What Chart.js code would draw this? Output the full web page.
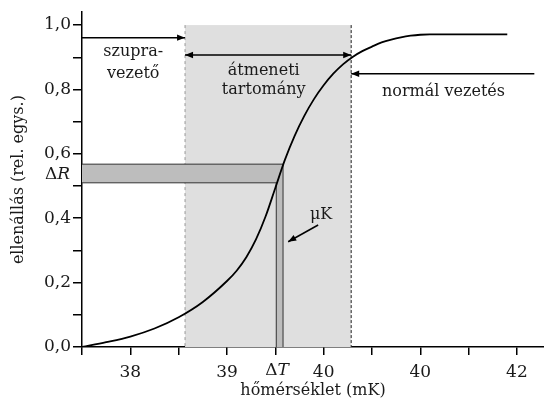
<!doctype html>
<html lang="hu">
<head>
  <meta charset="utf-8">
  <title>ellenállás – hőmérséklet</title>
  <script src="https://cdn.jsdelivr.net/npm/chart.js@4.4.1/dist/chart.umd.min.js"></script>
  <style>
    html, body { margin: 0; padding: 0; background: #fff; }
  </style>
</head>
<body>
  <canvas id="myChart" width="544" height="400"></canvas>
  <script>
    // a görbe leolvasott pontjai
    const tempK = [37.5, 37.75, 38.0, 38.25, 38.5, 38.75, 39.0, 39.1, 39.2, 39.3, 39.4, 39.5, 39.6, 39.7,
      39.8, 39.9, 40.0, 40.1, 40.2, 40.3, 40.4, 40.5, 40.6, 40.7, 40.8, 40.9, 41.0, 41.1, 41.9];
    const resistance = [0, 0.015, 0.0325, 0.0575, 0.0925, 0.14, 0.205, 0.237, 0.279, 0.334, 0.406, 0.494,
      0.582, 0.656, 0.718, 0.77, 0.813, 0.849, 0.878, 0.901, 0.919, 0.933, 0.946, 0.955, 0.962, 0.967,
      0.97, 0.971, 0.971];

    // tengely-feliratok
    const xTickValues = [37.5, 38, 38.5, 39, 39.5, 40, 40.5, 41, 41.5, 42];
    const xTickLabels = ['', '38', '', '39', '', '40', '', '40', '', '42'];
    const yTickValues = [0, 0.1, 0.2, 0.3, 0.4, 0.5, 0.6, 0.7, 0.8, 0.9, 1.0];
    const yTickLabels = ['0,0', '', '0,2', '', '0,4', '', '0,6', '', '0,8', '', '1,0'];

    // tartományok
    const transitionRange = [38.566, 40.285];
    const deltaT = [39.51, 39.58];
    const deltaR = [0.51, 0.568];

    // nyilak: [x1, y1, x2, y2, kétirányú?]
    const arrows = [
      [37.5, 0.961, 38.566, 0.961, false],
      [38.566, 0.907, 40.285, 0.907, true],
      [42.18, 0.849, 40.285, 0.849, false],
      [39.943, 0.379, 39.633, 0.327, false]
    ];

    // feliratok: [szöveg, x, y]
    const notes = [
      ['szupra-', 38.03, 0.916],
      ['vezető', 38.03, 0.850],
      ['átmeneti', 39.38, 0.858],
      ['tartomány', 39.38, 0.800],
      ['normál vezetés', 41.24, 0.792],
      ['μK', 39.974, 0.411]
    ];
    const deltaNotes = [
      ['R', 37.246, 0.537],
      ['T', 39.519, -0.074]
    ];

    const FONT = "'DejaVu Serif', serif";

    function head(ctx, x1, y1, x2, y2) {
      const a = Math.atan2(y2 - y1, x2 - x1);
      ctx.beginPath();
      ctx.moveTo(x2, y2);
      ctx.lineTo(x2 - 8 * Math.cos(a) + 3.2 * Math.sin(a), y2 - 8 * Math.sin(a) - 3.2 * Math.cos(a));
      ctx.lineTo(x2 - 8 * Math.cos(a) - 3.2 * Math.sin(a), y2 - 8 * Math.sin(a) + 3.2 * Math.cos(a));
      ctx.closePath();
      ctx.fill();
    }

    const overlay = {
      id: 'overlay',
      beforeDatasetsDraw(chart) {
        const ctx = chart.ctx;
        const xs = chart.scales.x, ys = chart.scales.y;
        const x1 = xs.getPixelForValue(transitionRange[0]);
        const x2 = xs.getPixelForValue(transitionRange[1]);
        const top = ys.getPixelForValue(1.0), bot = ys.getPixelForValue(0);
        ctx.save();
        ctx.fillStyle = '#dfdfdf';
        ctx.fillRect(x1, top, x2 - x1, bot - top);
        ctx.lineWidth = 1;
        ctx.setLineDash([3, 3]);
        ctx.strokeStyle = '#999';
        ctx.beginPath(); ctx.moveTo(x1, top); ctx.lineTo(x1, bot); ctx.stroke();
        ctx.strokeStyle = '#222';
        ctx.setLineDash([3, 2]);
        ctx.beginPath(); ctx.moveTo(x2, top); ctx.lineTo(x2, bot); ctx.stroke();
        ctx.setLineDash([]);

        // ΔR és ΔT sávok
        const l = xs.getPixelForValue(37.5);
        const tl = xs.getPixelForValue(deltaT[0]), tr = xs.getPixelForValue(deltaT[1]);
        const rt = ys.getPixelForValue(deltaR[1]), rb = ys.getPixelForValue(deltaR[0]);
        ctx.fillStyle = '#bdbdbd';
        ctx.fillRect(l, rt, tr - l, rb - rt);
        ctx.fillRect(tl, rt, tr - tl, bot - rt);
        ctx.strokeStyle = '#333';
        ctx.lineWidth = 1;
        ctx.beginPath();
        ctx.moveTo(l, rt); ctx.lineTo(tr, rt); ctx.lineTo(tr, bot);
        ctx.moveTo(l, rb); ctx.lineTo(tl, rb); ctx.lineTo(tl, bot);
        ctx.stroke();
        ctx.restore();
      },
      afterDraw(chart) {
        const ctx = chart.ctx;
        const xs = chart.scales.x, ys = chart.scales.y;
        ctx.save();
        ctx.strokeStyle = '#000';
        ctx.fillStyle = '#000';
        ctx.lineWidth = 1.5;
        arrows.forEach(a => {
          const x1 = xs.getPixelForValue(a[0]), y1 = ys.getPixelForValue(a[1]);
          const x2 = xs.getPixelForValue(a[2]), y2 = ys.getPixelForValue(a[3]);
          ctx.beginPath(); ctx.moveTo(x1, y1); ctx.lineTo(x2, y2); ctx.stroke();
          head(ctx, x1, y1, x2, y2);
          if (a[4]) head(ctx, x2, y2, x1, y1);
        });

        ctx.textAlign = 'center';
        ctx.textBaseline = 'middle';
        ctx.fillStyle = '#1a1a1a';
        ctx.font = '16px ' + FONT;
        notes.forEach(n => {
          ctx.fillText(n[0], xs.getPixelForValue(n[1]), ys.getPixelForValue(n[2]));
        });

        // Δ + dőlt betű
        deltaNotes.forEach(n => {
          const cx = xs.getPixelForValue(n[1]), cy = ys.getPixelForValue(n[2]);
          ctx.font = '17px ' + FONT;
          const w1 = ctx.measureText('Δ').width;
          ctx.font = 'italic 17px ' + FONT;
          const w2 = ctx.measureText(n[0]).width;
          const sx = cx - (w1 + w2) / 2;
          ctx.textAlign = 'left';
          ctx.font = '17px ' + FONT;
          ctx.fillText('Δ', sx, cy);
          ctx.font = 'italic 17px ' + FONT;
          ctx.fillText(n[0], sx + w1, cy);
        });
        ctx.restore();
      }
    };

    function tickLabel(values, labels, v) {
      const i = values.findIndex(t => Math.abs(t - v) < 1e-6);
      return i < 0 ? '' : labels[i];
    }

    const ctx = document.getElementById('myChart').getContext('2d');
    const myChart = new Chart(ctx, {
      type: 'line',
      data: {
        datasets: [{
          data: tempK.map((t, i) => ({ x: t, y: resistance[i] })),
          borderColor: '#000',
          borderWidth: 1.8,
          pointRadius: 0,
          cubicInterpolationMode: 'monotone',
          fill: false
        }]
      },
      options: {
        responsive: false,
        animation: false,
        layout: { padding: { top: 10, right: 0, bottom: 0, left: 0 } },
        plugins: { legend: { display: false }, tooltip: { enabled: false } },
        scales: {
          x: {
            type: 'linear',
            min: 37.5,
            max: 42.28,
            afterBuildTicks: s => { s.ticks = xTickValues.map(v => ({ value: v })); },
            afterFit: s => { s.height = 53; },
            ticks: {
              autoSkip: false, maxRotation: 0, padding: 7, color: '#1a1a1a',
              font: { family: FONT, size: 17 },
              callback: v => tickLabel(xTickValues, xTickLabels, v)
            },
            grid: { drawOnChartArea: false, tickLength: 8, color: '#000', lineWidth: 1.5 },
            border: { color: '#000', width: 1.5 },
            title: {
              display: true, text: 'hőmérséklet (mK)', color: '#1a1a1a',
              font: { family: FONT, size: 16 }, padding: { top: 0, bottom: 0 }
            }
          },
          y: {
            min: 0,
            max: 1.04,
            afterBuildTicks: s => { s.ticks = yTickValues.map(v => ({ value: v })); },
            afterFit: s => { s.width = 82; },
            ticks: {
              autoSkip: false, padding: 2, color: '#1a1a1a',
              font: { family: FONT, size: 17 },
              callback: v => tickLabel(yTickValues, yTickLabels, v)
            },
            grid: { drawOnChartArea: false, tickLength: 9, color: '#000', lineWidth: 1.5 },
            border: { color: '#000', width: 1.5 },
            title: {
              display: true, text: 'ellenállás (rel. egys.)', color: '#1a1a1a',
              font: { family: FONT, size: 16 }, padding: { top: 9, bottom: 0 }
            }
          }
        }
      },
      plugins: [overlay]
    });
  </script>
</body>
</html>
